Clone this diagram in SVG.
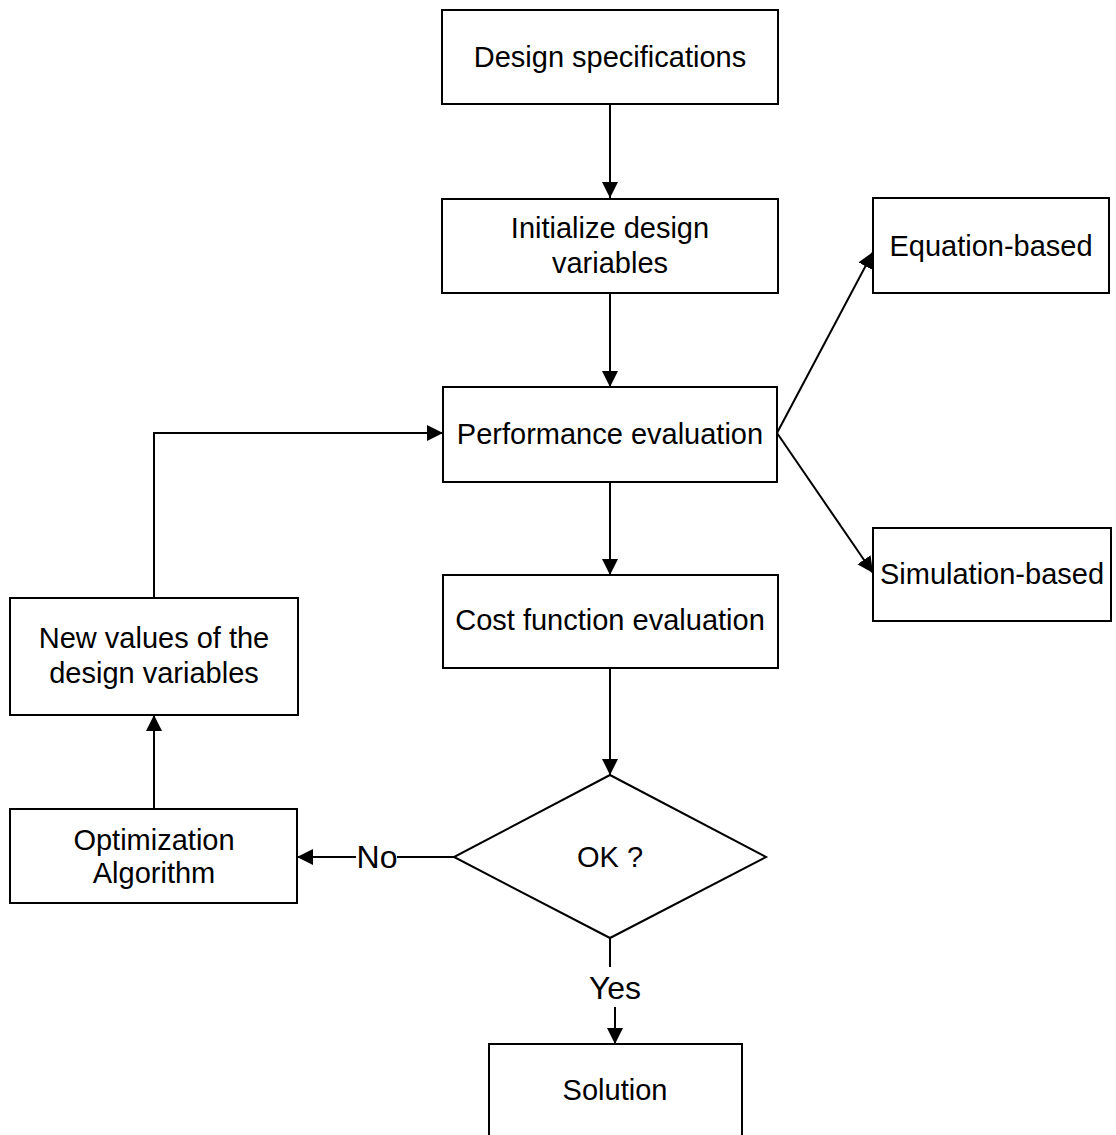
<svg xmlns="http://www.w3.org/2000/svg" width="1116" height="1135" viewBox="0 0 1116 1135">
  <style>
    .box { fill: #fff; stroke: #000; stroke-width: 2; }
    .edge { fill: none; stroke: #000; stroke-width: 2; }
    text { font-family: "Liberation Sans", Arial, sans-serif; font-size: 29px; fill: #000; text-anchor: middle; dominant-baseline: central; }
    .lbl { font-size: 32px; }
  </style>
  <defs>
    <marker id="arrow" viewBox="0 0 16 16" refX="16" refY="8" markerWidth="16" markerHeight="16" markerUnits="userSpaceOnUse" orient="auto">
      <path d="M0,0 L16,8 L0,16 Z" fill="#000"/>
    </marker>
  </defs>
  <rect width="1116" height="1135" fill="#fff"/>

  <g id="connectors">
    <line class="edge" x1="610" y1="104" x2="610" y2="198" marker-end="url(#arrow)"/>
    <line class="edge" x1="610" y1="293" x2="610" y2="387" marker-end="url(#arrow)"/>
    <line class="edge" x1="610" y1="482" x2="610" y2="575" marker-end="url(#arrow)"/>
    <line class="edge" x1="610" y1="668" x2="610" y2="775" marker-end="url(#arrow)"/>
    <line class="edge" x1="777" y1="433" x2="873" y2="252" marker-end="url(#arrow)"/>
    <line class="edge" x1="777" y1="433" x2="873" y2="573" marker-end="url(#arrow)"/>
    <polyline class="edge" points="154,598 154,433 443,433" marker-end="url(#arrow)"/>
    <line class="edge" x1="154" y1="809" x2="154" y2="715" marker-end="url(#arrow)"/>
    <line class="edge" x1="454" y1="857" x2="397" y2="857"/>
    <line class="edge" x1="356" y1="857" x2="297" y2="857" marker-end="url(#arrow)"/>
    <text class="lbl" x="377" y="857">No</text>
    <line class="edge" x1="610" y1="938" x2="610" y2="967"/>
    <line class="edge" x1="615" y1="1007" x2="615" y2="1044" marker-end="url(#arrow)"/>
    <text class="lbl" x="615" y="988">Yes</text>
  </g>

  <g id="design-specifications">
    <rect class="box" x="442" y="10" width="336" height="94"/>
    <text x="610" y="57">Design specifications</text>
  </g>
  <g id="initialize-variables">
    <rect class="box" x="442" y="199" width="336" height="94"/>
    <text x="610" y="228">Initialize design</text>
    <text x="610" y="263">variables</text>
  </g>
  <g id="performance-evaluation">
    <rect class="box" x="443" y="387" width="334" height="95"/>
    <text x="610" y="434">Performance evaluation</text>
  </g>
  <g id="equation-based">
    <rect class="box" x="873" y="198" width="236" height="95"/>
    <text x="991" y="246">Equation-based</text>
  </g>
  <g id="simulation-based">
    <rect class="box" x="873" y="528" width="238" height="93"/>
    <text x="992" y="574">Simulation-based</text>
  </g>
  <g id="cost-function-evaluation">
    <rect class="box" x="443" y="575" width="335" height="93"/>
    <text x="610" y="620">Cost function evaluation</text>
  </g>
  <g id="ok-decision">
    <polygon class="box" points="610,775 766,857 610,938 454,857"/>
    <text x="610" y="857">OK ?</text>
  </g>
  <g id="optimization-algorithm">
    <rect class="box" x="10" y="809" width="287" height="94"/>
    <text x="154" y="840">Optimization</text>
    <text x="154" y="873">Algorithm</text>
  </g>
  <g id="new-values">
    <rect class="box" x="10" y="598" width="288" height="117"/>
    <text x="154" y="638">New values of the</text>
    <text x="154" y="673">design variables</text>
  </g>
  <g id="solution">
    <rect class="box" x="489" y="1044" width="253" height="100"/>
    <text x="615" y="1090">Solution</text>
  </g>
</svg>
